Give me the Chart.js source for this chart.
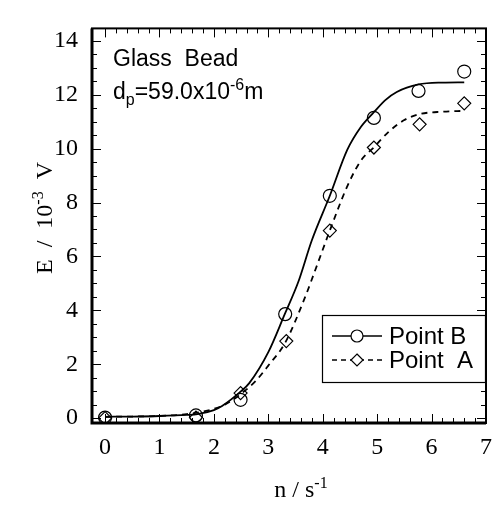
<!DOCTYPE html>
<html lang="en">
<head>
<meta charset="UTF-8">
<title>Glass Bead</title>
<script src="https://cdn.jsdelivr.net/npm/chart.js"></script>
<style>
  html, body { margin: 0; padding: 0; background: #fff; }
</style>
</head>
<body>
<canvas id="chart" width="502" height="506"></canvas>
<script>
// measured points
const pointBX = [0, 1.67, 2.49, 3.31, 4.13, 4.94, 5.76, 6.6];
const pointBY = [0.02, 0.1, 0.68, 3.86, 8.25, 11.14, 12.14, 12.86];
const pointAX = [0, 1.67, 2.49, 3.33, 4.13, 4.94, 5.78, 6.6];
const pointAY = [0.0, 0.02, 0.93, 2.86, 6.96, 10.04, 10.9, 11.68];

// fitted curves
const curveBX = [0, 0.5, 1, 1.5, 1.7, 2, 2.15, 2.5, 2.65, 3, 3.3, 3.55, 3.8, 4.13, 4.45, 4.7, 4.94, 5.15, 5.36, 5.76, 6.2, 6.6];
const curveBY = [0.05, 0.06, 0.08, 0.12, 0.15, 0.3, 0.45, 1.0, 1.3, 2.45, 3.85, 5.05, 6.6, 8.25, 9.95, 10.8, 11.35, 11.8, 12.1, 12.38, 12.45, 12.46];
const curveAX = [0, 0.5, 1, 1.5, 1.9, 2.2, 2.49, 2.76, 3.0, 3.31, 3.67, 3.9, 4.13, 4.45, 4.7, 4.94, 5.2, 5.49, 5.78, 6.2, 6.6];
const curveAY = [0.05, 0.06, 0.08, 0.15, 0.29, 0.5, 0.89, 1.36, 1.95, 2.8, 4.46, 5.7, 6.96, 8.6, 9.55, 10.05, 10.6, 11.05, 11.28, 11.37, 11.4];

const xTicks = [0, 1, 2, 3, 4, 5, 6, 7];
const yTicks = [0, 2, 4, 6, 8, 10, 12, 14];
const legendLabels = ['Point B', 'Point  A'];

const serif = '"Liberation Serif", "Times New Roman", serif';
const sans = '"Liberation Sans", Arial, sans-serif';

const toXY = (xs, ys) => xs.map((x, i) => ({ x: x, y: ys[i] }));

// draw text made of pieces (sub/superscripts)
function richText(ctx, parts, x, y, align) {
    let w = 0;
    parts.forEach(p => { ctx.font = p.size + 'px ' + p.family; p.w = ctx.measureText(p.t).width; w += p.w; });
    let cx = align === 'center' ? x - w / 2 : x;
    ctx.textAlign = 'left';
    ctx.textBaseline = 'alphabetic';
    parts.forEach(p => {
        ctx.font = p.size + 'px ' + p.family;
        ctx.fillText(p.t, cx, y + (p.dy || 0));
        cx += p.w;
    });
}

const framePlugin = {
    id: 'frame',
    afterDraw(chart) {
        const ctx = chart.ctx;
        const a = chart.chartArea;
        const xs = chart.scales.x, ys = chart.scales.y;
        ctx.save();
        ctx.strokeStyle = '#000';
        ctx.fillStyle = '#000';

        // frame: left and bottom a bit heavier
        ctx.lineWidth = 2;
        ctx.strokeRect(a.left, a.top, a.right - a.left, a.bottom - a.top);
        ctx.lineWidth = 3;
        ctx.beginPath();
        ctx.moveTo(a.left, a.top); ctx.lineTo(a.left, a.bottom); ctx.lineTo(a.right, a.bottom);
        ctx.stroke();

        // inward ticks on all sides
        ctx.lineWidth = 1;
        ctx.beginPath();
        for (let v = 0; v <= 7.001; v += 0.2) {
            const px = Math.round(xs.getPixelForValue(v)) + 0.5;
            const major = Math.abs(v - Math.round(v)) < 0.01;
            const len = major ? 9 : 5;
            ctx.moveTo(px, a.bottom); ctx.lineTo(px, a.bottom - len);
            ctx.moveTo(px, a.top); ctx.lineTo(px, a.top + len);
        }
        for (let v = 0; v <= 14.001; v += 0.5) {
            const py = Math.round(ys.getPixelForValue(v)) + 0.5;
            const major = Math.abs(v / 2 - Math.round(v / 2)) < 0.01;
            const len = major ? 9 : 5;
            ctx.moveTo(a.left, py); ctx.lineTo(a.left + len, py);
            ctx.moveTo(a.right, py); ctx.lineTo(a.right - len, py);
        }
        ctx.stroke();

        // axis titles
        richText(ctx, [
            { t: 'n / s', size: 24, family: serif },
            { t: '-1', size: 16, family: serif, dy: -9 }
        ], 301, 497, 'center');

        ctx.save();
        ctx.translate(52, 218);
        ctx.rotate(-Math.PI / 2);
        richText(ctx, [
            { t: 'E  /  10', size: 24, family: serif },
            { t: '-3', size: 16, family: serif, dy: -9 },
            { t: '  V', size: 24, family: serif }
        ], 0, 0, 'center');
        ctx.restore();

        // annotation
        richText(ctx, [{ t: 'Glass  Bead', size: 23, family: sans }], 113, 66, 'left');
        richText(ctx, [
            { t: 'd', size: 23, family: sans },
            { t: 'p', size: 16, family: sans, dy: 6 },
            { t: '=59.0x10', size: 23, family: sans },
            { t: '-6', size: 16, family: sans, dy: -9 },
            { t: 'm', size: 23, family: sans }
        ], 113, 99, 'left');

        // legend box
        ctx.fillStyle = '#fff';
        ctx.fillRect(322, 315, 163, 67);
        ctx.lineWidth = 1.2;
        ctx.strokeRect(322.5, 315.5, 163, 67);
        const rows = [336, 360];
        chart.data.datasets.slice(2).forEach((ds, i) => {
            const y = rows[i];
            ctx.lineWidth = 1.5;
            ctx.strokeStyle = '#000';
            ctx.setLineDash(i === 0 ? [] : [5, 4]);
            ctx.beginPath();
            ctx.moveTo(332, y); ctx.lineTo(382, y);
            ctx.stroke();
            ctx.setLineDash([]);
            ctx.fillStyle = '#fff';
            ctx.lineWidth = 1.2;
            ctx.beginPath();
            if (i === 0) {
                ctx.arc(357, y, 6, 0, Math.PI * 2);
            } else {
                ctx.moveTo(357, y - 6); ctx.lineTo(363, y); ctx.lineTo(357, y + 6); ctx.lineTo(351, y);
                ctx.closePath();
            }
            ctx.fill();
            ctx.stroke();
            ctx.fillStyle = '#000';
            ctx.font = '24px ' + sans;
            ctx.textAlign = 'left';
            ctx.textBaseline = 'middle';
            ctx.fillText(ds.label, 389, y + 1);
        });
        ctx.restore();
    }
};

new Chart(document.getElementById('chart'), {
    type: 'scatter',
    data: {
        datasets: [
            {
                label: 'fit B',
                data: toXY(curveBX, curveBY),
                showLine: true,
                borderColor: '#000',
                borderWidth: 1.8,
                pointRadius: 0,
                cubicInterpolationMode: 'monotone'
            },
            {
                label: 'fit A',
                data: toXY(curveAX, curveAY),
                showLine: true,
                borderColor: '#000',
                borderWidth: 1.8,
                borderDash: [6, 5],
                pointRadius: 0,
                cubicInterpolationMode: 'monotone'
            },
            {
                label: legendLabels[0],
                data: toXY(pointBX, pointBY),
                pointStyle: 'circle',
                pointRadius: 6.5,
                borderColor: '#000',
                borderWidth: 1.2,
                backgroundColor: 'rgba(0,0,0,0)'
            },
            {
                label: legendLabels[1],
                data: toXY(pointAX, pointAY),
                pointStyle: 'rectRot',
                pointRadius: 6.5,
                borderColor: '#000',
                borderWidth: 1.2,
                backgroundColor: 'rgba(0,0,0,0)'
            }
        ]
    },
    options: {
        responsive: false,
        animation: false,
        devicePixelRatio: 1,
        layout: { padding: { left: 0, right: 12, top: 13, bottom: 0 } },
        plugins: {
            legend: { display: false },
            tooltip: { enabled: false }
        },
        scales: {
            x: {
                type: 'linear',
                min: -0.24,
                max: 7,
                afterBuildTicks: s => { s.ticks = xTicks.map(v => ({ value: v })); },
                afterFit: s => { s.height = 83; },
                grid: { display: false, drawTicks: false },
                border: { display: false },
                ticks: { color: '#000', font: { family: serif, size: 24 }, padding: 10, maxRotation: 0 }
            },
            y: {
                type: 'linear',
                min: -0.18,
                max: 14.46,
                afterBuildTicks: s => { s.ticks = yTicks.map(v => ({ value: v })); },
                afterFit: s => { s.width = 92; },
                grid: { display: false, drawTicks: false },
                border: { display: false },
                ticks: { color: '#000', font: { family: serif, size: 24 }, padding: 14 }
            }
        }
    },
    plugins: [framePlugin]
});
</script>
</body>
</html>
